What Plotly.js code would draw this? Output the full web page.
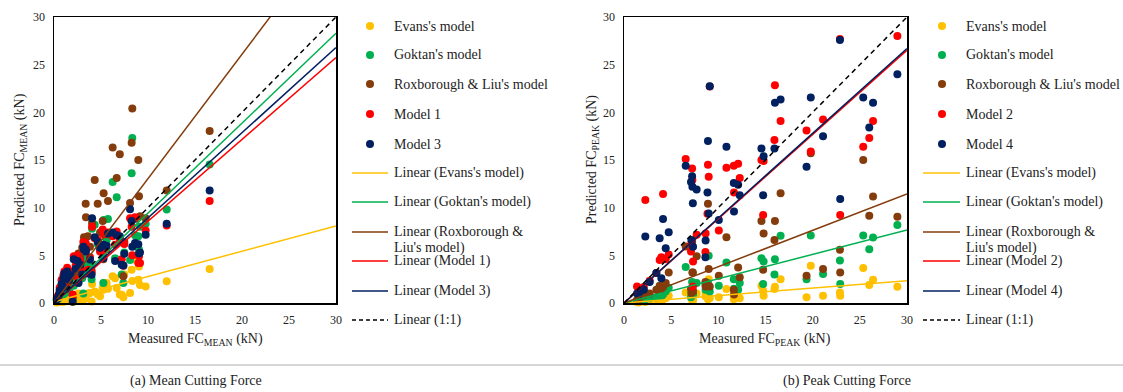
<!DOCTYPE html>
<html><head><meta charset="utf-8">
<script src="https://cdn.plot.ly/plotly-3.0.1.min.js"></script>
<style>html,body{margin:0;padding:0;background:#fff}#chart{width:1123px;height:392px}</style>
</head><body><div id="chart"></div>
<script>
// ---------- DATA: (a) mean cutting force ----------
const measuredMean = [0.3,0.5,0.6,0.8,0.9,1.0,1.1,1.3,1.4,1.6,1.8,1.99,2.1,2.3,2.5,2.6,2.8,3.0,3.12,3.19,3.37,3.4,3.6,3.83,4.0,4.05,4.33,4.65,4.9,5.18,5.25,5.28,5.6,5.74,6.24,6.5,6.67,7.0,7.2,7.38,7.48,8.09,8.26,8.33,8.62,8.97,9.04,9.15,9.75,11.99,16.56];
const evansMean  = [0.05,0.1,0.15,0.2,0.3,0.1,0.4,0.3,0.5,0.2,0.6,0.1,0.5,0.7,0.4,1.0,0.8,0.3,0.35,0.6,0.5,0.9,1.0,1.05,0.17,2.0,1.2,0.9,0.7,1.6,1.4,2.1,2.1,1.5,2.8,2.6,1.57,0.9,0.87,0.6,3.0,1.05,3.49,2.3,4.53,2.44,3.84,1.9,1.74,2.27,3.56];
const goktanMean = [0.3,0.5,0.8,1.0,1.2,0.9,1.5,1.1,1.6,1.3,2.0,0.4,1.8,2.4,2.1,2.2,3.0,2.6,1.0,3.5,4.8,4.2,4.5,3.9,2.5,7.8,8.2,6.2,5.5,7.5,2.1,8.7,6.6,8.8,12.7,4.7,11.1,6.6,3.0,2.1,5.3,4.5,13.6,17.3,7.1,7.0,5.6,8.0,8.3,9.8,14.54];
const roxMean    = [0.4,0.7,1.0,1.4,1.6,1.3,2.2,1.7,2.5,2.0,2.8,0.6,2.9,3.6,3.1,5.2,4.8,5.8,3.0,6.9,10.4,9.0,7.0,5.9,3.4,8.4,12.9,10.4,7.4,8.6,4.6,11.5,7.2,10.7,16.3,7.3,13.1,15.6,6.4,2.8,6.4,10.5,16.8,20.4,8.8,15.0,11.2,9.1,8.9,11.8,18.03];
const model1Mean = [0.6,0.9,1.6,2.4,1.4,2.9,3.3,1.9,3.7,2.6,3.3,0.9,4.9,3.9,5.0,2.5,4.4,3.4,6.4,6.1,6.3,5.8,3.5,4.8,3.2,8.0,6.8,6.6,5.4,7.7,4.9,7.2,5.6,7.4,7.0,6.1,7.5,6.8,4.6,3.9,6.2,8.9,8.0,5.0,9.0,4.2,4.9,4.2,7.6,8.13,10.7];
const model3Mean = [0.4,0.8,1.3,2.0,1.8,2.6,3.1,1.5,3.3,2.4,2.9,0.14,4.6,3.6,4.4,2.1,4.0,3.0,5.9,5.6,5.6,5.4,3.1,4.55,2.96,8.9,6.9,6.4,5.8,6.0,4.7,6.1,6.0,7.3,7.4,4.4,7.1,7.0,4.0,3.94,5.16,9.84,8.6,5.9,6.3,6.17,5.2,5.3,7.15,8.3,11.8];
// linear trend lines (intercept, slope)
const meanTrendIntercepts = [0.13,0,0,0,0];
const meanTrendSlopes     = [0.265,0.943,1.305,0.858,0.893];

// ---------- DATA: (b) peak cutting force ----------
const measuredPeak = [1.38,1.56,2.1,2.26,2.72,3.43,3.78,3.96,4.14,4.42,4.74,6.54,7.1,7.15,7.22,7.25,7.3,7.32,7.7,8.63,8.65,8.85,8.9,8.98,9.09,10.05,10.86,11.64,11.66,12.1,12.27,14.57,14.75,14.8,15.95,16.0,16.6,19.35,19.8,21.1,22.89,22.92,25.36,26.0,26.4,28.98];
const evansPeak  = [0.1,0.05,0.2,0.1,0.2,0.4,0.2,0.3,0.4,0.5,0.77,1.1,1.2,0.5,0.87,0.2,0.3,0.3,1.0,0.7,1.1,1.0,0.4,2.5,0.5,0.6,1.46,0.4,0.7,0.6,0.5,1.8,1.3,0.77,1.46,1.7,2.5,0.6,3.9,0.77,1.1,0.77,3.66,1.9,2.44,1.71];
const goktanPeak = [0.3,0.2,0.3,0.4,0.5,0.6,0.8,0.7,0.9,1.2,1.6,3.77,0.6,1.1,2.2,0.8,1.3,0.9,2.1,2.0,1.4,1.7,2.1,4.95,1.2,1.8,4.26,2.5,1.5,1.4,2.1,4.7,2.0,4.36,3.0,4.6,7.05,2.5,7.08,3.03,4.46,2.0,7.08,5.65,6.87,8.18];
const roxPeak    = [0.3,0.35,0.8,1.05,1.0,1.4,1.8,1.5,1.7,2.1,3.2,5.93,1.5,1.05,6.45,3.2,3.2,1.2,4.9,2.2,1.74,1.9,10.4,3.56,1.74,2.86,6.9,1.4,0.9,3.73,2.69,8.6,3.49,7.3,6.6,8.6,11.5,2.86,15.7,3.56,5.58,3.2,15.0,9.14,11.16,9.05];
const model2Peak = [1.74,1.0,1.67,10.8,2.34,3.14,4.5,4.8,11.44,4.6,5.1,15.1,5.4,6.28,14.1,12.9,1.74,4.36,7.15,5.34,7.3,9.35,14.5,13.25,22.7,7.6,14.2,14.4,11.6,14.6,13.1,15.0,9.24,14.9,17.1,22.85,19.1,18.1,15.9,19.25,27.7,9.24,16.4,17.3,19.1,28.0];
const model4Peak = [1.0,0.9,1.4,6.98,2.2,3.14,6.8,2.6,8.8,5.75,7.43,14.4,12.7,6.6,13.3,12.2,10.46,5.9,11.9,4.8,6.56,11.6,17.0,9.4,22.74,8.7,16.4,12.6,9.6,12.4,11.3,16.2,11.3,15.4,16.2,21.0,21.35,14.3,21.55,17.5,27.6,10.9,21.55,18.4,21.0,24.0];
const peakTrendIntercepts = [0,0,0,0,0];
const peakTrendSlopes     = [0.078,0.255,0.381,0.884,0.890];

const meanNames = ["Evans's model","Goktan's model","Roxborough & Liu's model","Model 1","Model 3"];
const peakNames = ["Evans's model","Goktan's model","Roxborough & Liu's model","Model 2","Model 4"];
const tickVals = [0,5,10,15,20,25,30];
const axisRange = [0,30];

// ---------- STYLE ----------
const W = 1123, H = 392;
const colors = ['#FFC000','#00B050','#843C0C','#FF0000','#002060'];
const FONT = 'Liberation Serif, Times New Roman, serif';
const fx = p => p / W, fy = p => 1 - p / H;

const traces = [];
function addPanel(xs, series, intercepts, slopes, xa, ya) {
  series.forEach((ys, i) => {
    traces.push({type:'scatter', mode:'markers', x: xs, y: ys, xaxis: xa, yaxis: ya,
      marker:{color: colors[i], size: 8, line:{width:0}}, cliponaxis:false, showlegend:false, hoverinfo:'x+y'});
  });
  series.forEach((ys, i) => {
    traces.push({type:'scatter', mode:'lines', x: axisRange, y: axisRange.map(v => intercepts[i] + slopes[i]*v),
      xaxis: xa, yaxis: ya, line:{color: colors[i], width: 1.5}, showlegend:false, hoverinfo:'skip'});
  });
  traces.push({type:'scatter', mode:'lines', x: axisRange, y: axisRange, xaxis: xa, yaxis: ya,
    line:{color:'#000', width:1.5, dash:'5px,4px'}, showlegend:false, hoverinfo:'skip'});
}
addPanel(measuredMean, [evansMean, goktanMean, roxMean, model1Mean, model3Mean], meanTrendIntercepts, meanTrendSlopes, 'x', 'y');
addPanel(measuredPeak, [evansPeak, goktanPeak, roxPeak, model2Peak, model4Peak], peakTrendIntercepts, peakTrendSlopes, 'x2', 'y2');

function axis(domain, anchor) {
  return {domain: domain, anchor: anchor, range: axisRange, tickvals: tickVals, ticks:'', showgrid:false, zeroline:false,
    showline:true, mirror:true, linecolor:'#000', linewidth:1.5, automargin:false, ticklabelstandoff: 5,
    tickfont:{family: FONT, size: 12, color:'#222'}, fixedrange:true};
}
const yDom = [fy(303), fy(17)];

const annotations = [], shapes = [];
function txt(x, y, text, opts) {
  annotations.push(Object.assign({xref:'paper', yref:'paper', x: fx(x), y: fy(y), text: text, showarrow:false,
    xanchor:'left', yanchor:'middle', font:{family: FONT, size: 14, color:'#222'}}, opts || {}));
}
// axis titles
txt(195, 339, 'Measured FC<sub>MEAN</sub> (kN)', {xanchor:'center'});
txt(765, 339, 'Measured FC<sub>PEAK</sub> (kN)', {xanchor:'center'});
txt(20, 160, 'Predicted FC<sub>MEAN</sub> (kN)', {xanchor:'center', textangle:-90});
txt(592, 160, 'Predicted FC<sub>PEAK</sub> (kN)', {xanchor:'center', textangle:-90});
// captions
txt(196, 381, '(a) Mean Cutting Force', {xanchor:'center'});
txt(847, 381, '(b) Peak Cutting Force', {xanchor:'center'});
shapes.push({type:'line', xref:'paper', yref:'paper', x0:0, x1:1, y0:fy(365), y1:fy(365), line:{color:'#c8c8c8', width:1.5}});

// legends
const rowY = [26,55,84,114,144,173,202,232,261,291,320];
function legend(names, lx, mx, l0, l1) {
  names.forEach((n, i) => {
    const y = rowY[i];
    shapes.push({type:'circle', xref:'paper', yref:'paper', x0: fx(mx-4), x1: fx(mx+4), y0: fy(y+4), y1: fy(y-4),
      fillcolor: colors[i], line:{width:0}});
    txt(lx, y, n);
  });
  names.forEach((n, i) => {
    const y = rowY[5+i];
    shapes.push({type:'line', xref:'paper', yref:'paper', x0: fx(l0), x1: fx(l1), y0: fy(y), y1: fy(y), line:{color: colors[i], width:1.5}});
    if (i === 2) { txt(lx, y, 'Linear (Roxborough &'); txt(lx, y+16, "Liu's model)"); }
    else txt(lx, y, 'Linear (' + n + ')');
  });
  shapes.push({type:'line', xref:'paper', yref:'paper', x0: fx(l0), x1: fx(l1), y0: fy(rowY[10]), y1: fy(rowY[10]),
    line:{color:'#000', width:1.5, dash:'4px,3px'}});
  txt(lx, rowY[10], 'Linear (1:1)');
}
legend(meanNames, 392, 370, 352, 388);
legend(peakNames, 964, 942, 923, 960);

const layout = {
  width: W, height: H, margin:{l:0, r:0, t:0, b:0}, paper_bgcolor:'#fff', plot_bgcolor:'#fff', showlegend:false,
  xaxis: axis([fx(54), fx(336)], 'y'), yaxis: axis(yDom, 'x'),
  xaxis2: axis([fx(624), fx(907)], 'y2'), yaxis2: axis(yDom, 'x2'),
  annotations: annotations, shapes: shapes, font:{family: FONT}
};
Plotly.newPlot('chart', traces, layout, {displayModeBar:false, staticPlot:true});
</script></body></html>
